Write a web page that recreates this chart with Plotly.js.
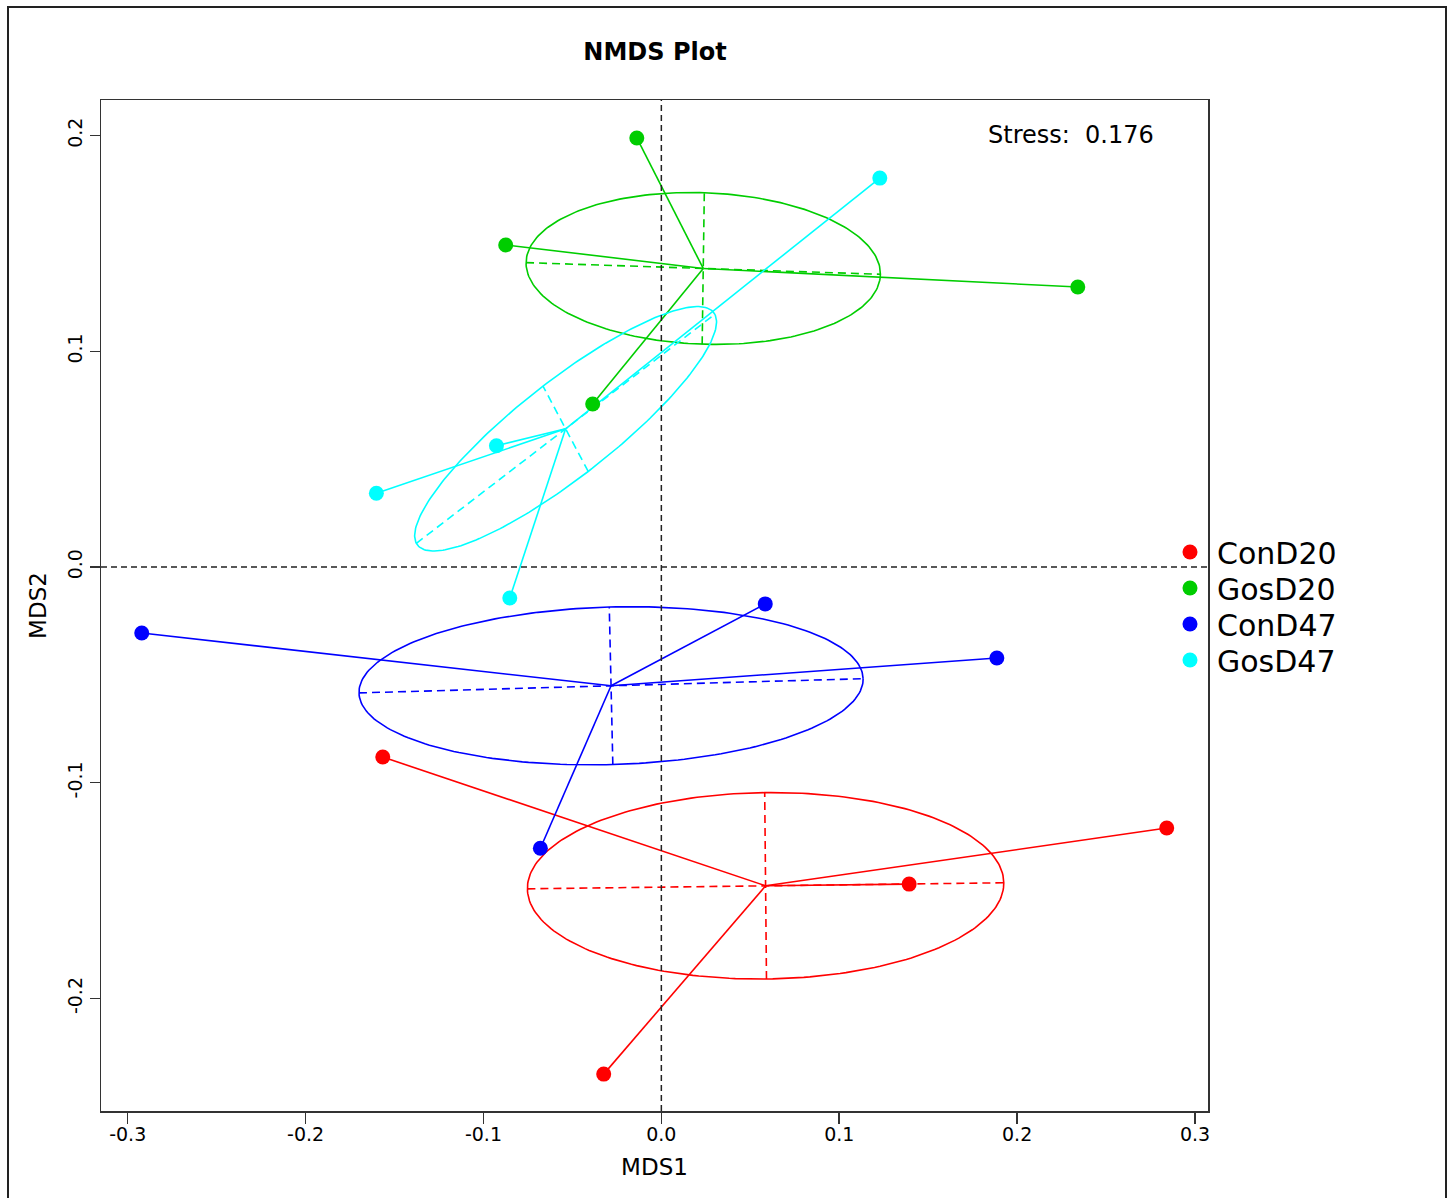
<!DOCTYPE html>
<html>
<head>
<meta charset="utf-8">
<script src="https://cdn.plot.ly/plotly-3.0.1.min.js"></script>
<style>
  html, body { margin: 0; padding: 0; background: #fff; overflow: hidden; }
  #wrap { position: relative; width: 1448px; height: 1198px; overflow: hidden; }
  #chart { position: absolute; left: 0; top: 0; width: 1448px; height: 1198px; }
  #frame { position: absolute; left: 7px; top: 6px; width: 1436px; height: 1300px;
           border: 2px solid #222; pointer-events: none; }
</style>
</head>
<body>
<div id="wrap">
  <div id="chart"></div>
  <div id="frame"></div>
</div>
<script>
// ---- data ----
const groups = ['ConD20', 'GosD20', 'ConD47', 'GosD47'];
const groupColors = ['#FF0000', '#00CD00', '#0000FF', '#00FFFF'];

const conD20_x = [-0.1566, -0.0324, 0.1393, 0.2841];
const conD20_y = [-0.0881, -0.2351, -0.1470, -0.1210];
const gosD20_x = [-0.0138, -0.0875, 0.2341, -0.0386];
const gosD20_y = [0.1989, 0.1493, 0.1298, 0.0756];
const conD47_x = [-0.2921, 0.0584, 0.1886, -0.0680];
const conD47_y = [-0.0306, -0.0171, -0.0422, -0.1304];
const gosD47_x = [0.1228, -0.0927, -0.1602, -0.0852];
const gosD47_y = [0.1803, 0.0562, 0.0342, -0.0144];

// ellipse semi-axis vectors (in MDS units), one pair per group
const ellipseMajor = [[0.1339, 0.0014], [0.0996, -0.0027], [0.1417, 0.0033], [0.0839, 0.0531]];
const ellipseMinor = [[-0.0005, 0.0432], [0.0006, 0.0351], [-0.0010, 0.0365], [-0.0127, 0.0198]];

const stressValue = '0.176';
const xTickVals = [-0.3, -0.2, -0.1, 0.0, 0.1, 0.2, 0.3];
const xTickText = ['-0.3', '-0.2', '-0.1', '0.0', '0.1', '0.2', '0.3'];
const yTickVals = [-0.2, -0.1, 0.0, 0.1, 0.2];
const yTickText = ['-0.2', '-0.1', '0.0', '0.1', '0.2'];

// ---- build traces ----
const xs = [conD20_x, gosD20_x, conD47_x, gosD47_x];
const ys = [conD20_y, gosD20_y, conD47_y, gosD47_y];
const mean = a => a.reduce((s, v) => s + v, 0) / a.length;

const FONT = 'DejaVu Sans, Verdana, sans-serif';
const traces = [];

groups.forEach((g, i) => {
  const col = groupColors[i];
  const cx = mean(xs[i]), cy = mean(ys[i]);
  const A = ellipseMajor[i], B = ellipseMinor[i];

  // ellipse outline
  const ex = [], ey = [];
  const n = 240;
  for (let k = 0; k <= n; k++) {
    const t = 2 * Math.PI * k / n;
    ex.push(cx + A[0] * Math.cos(t) + B[0] * Math.sin(t));
    ey.push(cy + A[1] * Math.cos(t) + B[1] * Math.sin(t));
  }
  traces.push({x: ex, y: ey, mode: 'lines', line: {color: col, width: 1.6},
               showlegend: false, hoverinfo: 'skip'});

  // ellipse axes (dashed)
  traces.push({
    x: [cx - A[0], cx + A[0], null, cx - B[0], cx + B[0]],
    y: [cy - A[1], cy + A[1], null, cy - B[1], cy + B[1]],
    mode: 'lines', line: {color: col, width: 1.6, dash: '8px,5px'},
    showlegend: false, hoverinfo: 'skip'
  });

  // spider lines
  const sx = [], sy = [];
  xs[i].forEach((v, k) => { sx.push(cx, v, null); sy.push(cy, ys[i][k], null); });
  traces.push({x: sx, y: sy, mode: 'lines', line: {color: col, width: 1.6},
               showlegend: false, hoverinfo: 'skip'});
});

groups.forEach((g, i) => {
  traces.push({x: xs[i], y: ys[i], mode: 'markers', name: g,
               marker: {color: groupColors[i], size: 15, line: {width: 0}},
               showlegend: false});
});

// ---- legend drawn at the right of the plot (pixel placement) ----
const PL = 101, PW = 1107, PB = 1111, PH = 1011;
const px = v => (v - PL) / PW;
const py = v => (PB - v) / PH;
const legendShapes = [], legendNotes = [];
groups.forEach((g, i) => {
  const yy = 552 + 36 * i;
  legendShapes.push({type: 'circle', xref: 'paper', yref: 'paper',
    xsizemode: 'pixel', ysizemode: 'pixel', xanchor: px(1190), yanchor: py(yy),
    x0: -7.5, x1: 7.5, y0: -7.5, y1: 7.5,
    fillcolor: groupColors[i], line: {width: 0}});
  legendNotes.push({xref: 'paper', yref: 'paper', x: px(1215), y: py(yy + 1),
    xanchor: 'left', yanchor: 'middle', showarrow: false, text: g,
    font: {size: 30, family: FONT, color: '#000'}});
});

const layout = {
  width: 1448, height: 1198,
  margin: {l: 101, r: 240, t: 100, b: 87, pad: 0},
  paper_bgcolor: '#fff', plot_bgcolor: '#fff',
  font: {family: FONT, color: '#000'},
  showlegend: false,
  title: {text: '<b>NMDS Plot</b>', font: {family: FONT, size: 24, color: '#000'},
          x: 655 / 1448, xanchor: 'center', y: 1 - 52 / 1198, yanchor: 'middle', xref: 'container'},
  xaxis: {
    range: [-0.3150, 0.3073], showgrid: false, zeroline: false,
    showline: true, mirror: true, linecolor: '#333', linewidth: 1.5,
    ticks: 'outside', ticklen: 11, tickwidth: 1.5, tickcolor: '#333',
    ticklabelstandoff: -5,
    tickvals: xTickVals, ticktext: xTickText, tickfont: {size: 19, family: FONT},
    title: {text: 'MDS1', font: {size: 23, family: FONT}, standoff: 14}
  },
  yaxis: {
    range: [-0.2522, 0.2165], showgrid: false, zeroline: false,
    showline: true, mirror: true, linecolor: '#333', linewidth: 1.5,
    ticks: 'outside', ticklen: 10, tickwidth: 1.5, tickcolor: '#333',
    tickvals: yTickVals, ticktext: yTickText, tickangle: -90,
    tickfont: {size: 19, family: FONT},
    title: {text: 'MDS2', font: {size: 23, family: FONT}, standoff: 11}
  },
  shapes: [
    {type: 'line', xref: 'x', yref: 'paper', x0: 0, x1: 0, y0: 0, y1: 1,
     line: {color: '#222', width: 1.5, dash: '6px,4px'}},
    {type: 'line', xref: 'paper', yref: 'y', x0: 0, x1: 1, y0: 0, y1: 0,
     line: {color: '#222', width: 1.5, dash: '6px,4px'}}
  ].concat(legendShapes),
  annotations: [
    {xref: 'paper', yref: 'paper', x: px(986), y: py(135),
     xanchor: 'left', yanchor: 'middle', showarrow: false,
     text: 'Stress:\u00a0\u00a0' + stressValue, font: {size: 24, family: FONT, color: '#000'}}
  ].concat(legendNotes)
};

Plotly.newPlot('chart', traces, layout, {displayModeBar: false, staticPlot: true});
</script>
</body>
</html>
